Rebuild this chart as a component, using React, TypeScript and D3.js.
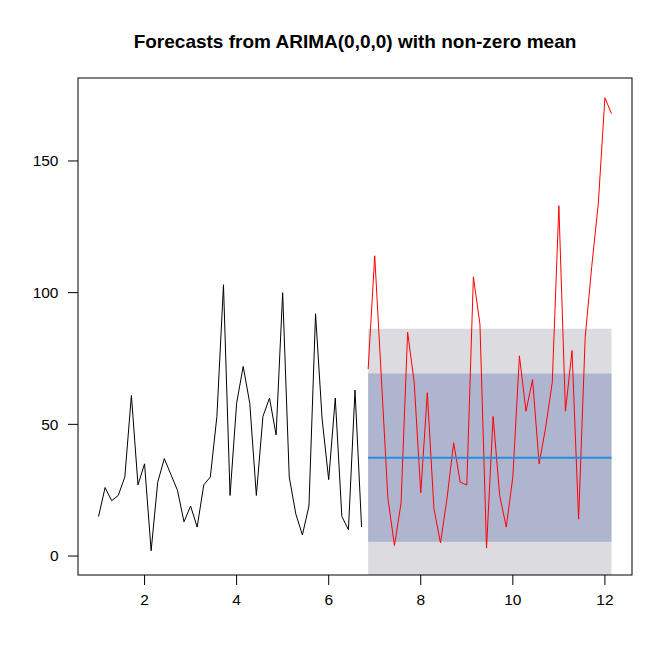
import React from "react";
import * as d3 from "d3";

const FREQ = 7;
const START = 1;

const observed: number[] = [
  15, 26, 21, 23, 30, 61, 27, 35, 2, 28, 37, 31, 25, 13, 19, 11, 27, 30, 53, 103,
  23, 58, 72, 58, 23, 53, 60, 46, 100, 30, 16, 8, 19, 92, 52, 29, 60, 15, 10, 63, 11,
];

const actual: number[] = [
  71, 114, 68, 22, 4, 20, 85, 66, 24, 62, 18, 5, 22, 43, 28, 27, 106, 88, 3, 53,
  23, 11, 30, 76, 55, 67, 35, 49, 66, 133, 55, 78, 14, 83, 110, 134, 174, 168,
];

const forecastMean = 37.3;
const lo80 = 5.4;
const hi80 = 69.3;
const lo95 = -11.7;
const hi95 = 86.3;

const yTicks = [0, 50, 100, 150];
const xTicks = [2, 4, 6, 8, 10, 12];
const title = "Forecasts from ARIMA(0,0,0) with non-zero mean";

const W = 672;
const H = 672;
const L = 78;
const R = 632;
const T = 78;
const B = 575;

export default function App() {
  const nObs = observed.length;
  const nAll = nObs + actual.length;
  const tx = (i: number) => START + i / FREQ;
  const xMin = tx(0);
  const xMax = tx(nAll - 1);
  const xExt = (xMax - xMin) * 0.04;
  const x = d3.scaleLinear().domain([xMin - xExt, xMax + xExt]).range([L, R]);
  const y = d3.scaleLinear().domain([-7.2, 181.5]).range([B, T]);

  const obsPts: [number, number][] = observed.map((v, i) => [tx(i), v]);
  const actPts: [number, number][] = actual.map((v, i) => [tx(nObs + i), v]);
  const line = d3
    .line<[number, number]>()
    .x((d) => x(d[0]))
    .y((d) => y(d[1]));

  const fx0 = x(tx(nObs));
  const fx1 = x(tx(nAll - 1));
  const font = "'Liberation Sans', Arial, sans-serif";

  return (
    <svg width={W} height={H} style={{ display: "block", position: "absolute", left: 0, top: 0 }}>
      <rect x={0} y={0} width={W} height={H} fill="#ffffff" />
      <defs>
        <clipPath id="plotclip">
          <rect x={L} y={T} width={R - L} height={B - T} />
        </clipPath>
      </defs>
      <text x={(L + R) / 2} y={48} textAnchor="middle" fontFamily={font} fontWeight="bold" fontSize={19} fill="#000">
        {title}
      </text>
      <g clipPath="url(#plotclip)">
        <rect x={fx0} y={y(hi95)} width={fx1 - fx0} height={y(lo95) - y(hi95)} fill="#dbdbe0" />
        <rect x={fx0} y={y(hi80)} width={fx1 - fx0} height={y(lo80) - y(hi80)} fill="#b0b5cf" />
        <path d={line(obsPts) || ""} fill="none" stroke="#000" strokeWidth={1} />
        <path d={line(actPts) || ""} fill="none" stroke="#ff0000" strokeWidth={1} />
        <line x1={fx0} x2={fx1} y1={y(forecastMean)} y2={y(forecastMean)} stroke="#2a8be0" strokeWidth={2} />
      </g>
      <rect x={L} y={T} width={R - L} height={B - T} fill="none" stroke="#000" strokeWidth={1} />
      {yTicks.map((t) => (
        <g key={"y" + t}>
          <line x1={L - 10} x2={L} y1={y(t)} y2={y(t)} stroke="#000" />
          <text x={L - 19.5} y={y(t)} dy="0.35em" textAnchor="end" fontFamily={font} fontSize={15.5} fill="#000">
            {t}
          </text>
        </g>
      ))}
      {xTicks.map((t) => (
        <g key={"x" + t}>
          <line x1={x(t)} x2={x(t)} y1={B} y2={B + 10} stroke="#000" />
          <text x={x(t)} y={B + 30} textAnchor="middle" fontFamily={font} fontSize={15.5} fill="#000">
            {t}
          </text>
        </g>
      ))}
    </svg>
  );
}
